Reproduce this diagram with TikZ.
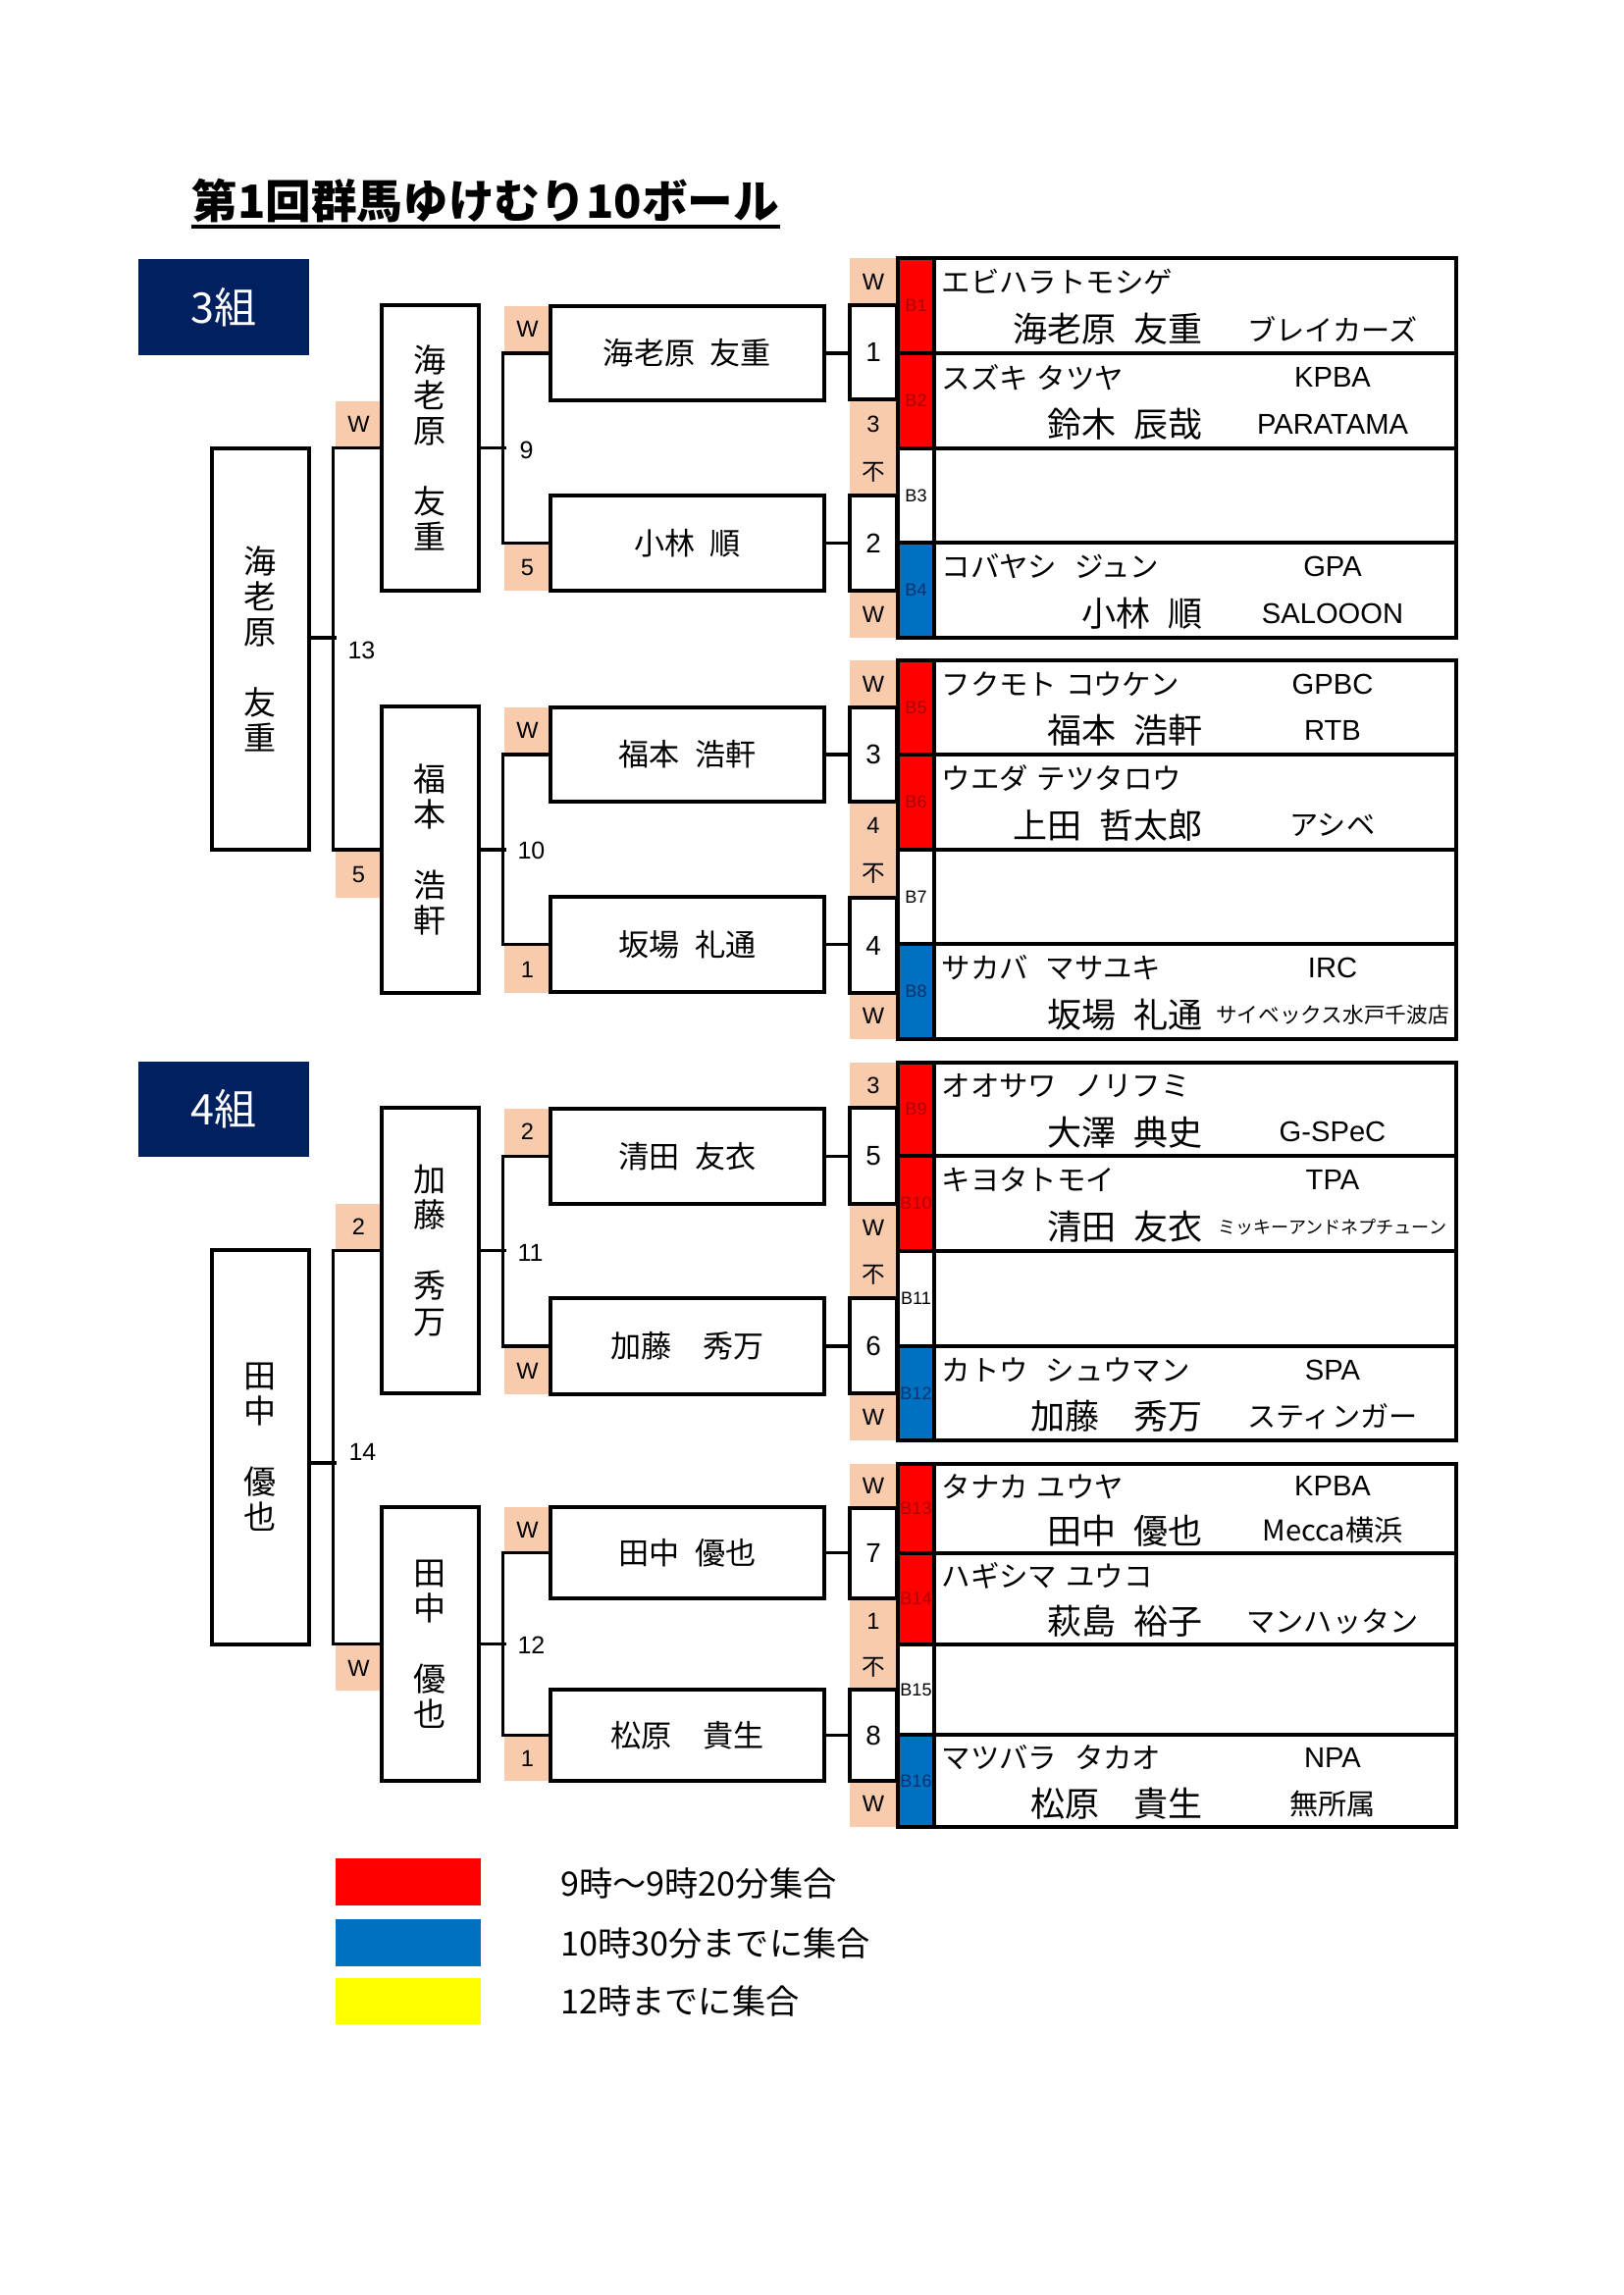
\documentclass[tikz,border=0pt]{standalone}
\usepackage{fontspec}
\setmainfont{Noto Sans CJK JP}
\newfontfamily\lat{Liberation Sans}
\usetikzlibrary{fit,calc}
\definecolor{peachc}{RGB}{248,203,173}
\definecolor{navyc}{RGB}{0,32,96}
\definecolor{redc}{RGB}{255,0,0}
\definecolor{bluec}{RGB}{0,112,192}
\definecolor{yellowc}{RGB}{255,255,0}
\definecolor{redlab}{RGB}{170,0,0}
\definecolor{bluelab}{RGB}{10,50,110}
\newcommand\hs{\hspace{0.5em}}
\newcommand\ks{\hspace{0.3em}}
\newcommand\kf{\hspace{0.6em}}
\newcommand\fz[2]{\fontsize{#1}{#2}\selectfont}
\tikzset{
  bx/.style={draw, line width=1.15pt, inner sep=0pt},
  conn/.style={line width=1.15pt},
  orng/.style={fill=peachc, inner sep=0pt},
  orngtxt/.style={inner sep=0pt, font=\lat\fz{8.5}{9}},
  vert/.style={inner sep=0pt, align=center, font=\fz{11.9}{13}},
  firsttxt/.style={inner sep=0pt, font=\fz{11.2}{12}},
  grp/.style={fill=navyc, inner sep=0pt},
  grptxt/.style={inner sep=0pt, text=white, font=\fz{15.5}{16}},
  rnd/.style={anchor=west, inner sep=0pt, font=\lat\fz{9}{9}},
  scorebx/.style={bx, fill=white},
  scoretxt/.style={inner sep=0pt, font=\lat\fz{10}{10}},
  legtxt/.style={anchor=west, inner sep=0pt, font=\fz{12.3}{13}}
}
\begin{document}
\begin{tikzpicture}[x=0.36pt,y=-0.36pt]
\useasboundingbox[fill=white] (0,0) rectangle (1654,2339);

% title
\node[anchor=base west, inner sep=0pt, font=\bfseries\fz{16.8}{17}] (title) at (195,222) {第1回群馬ゆけむり10ボール};
\draw[line width=1.3pt] ($(title.base west)+(0,9)$) -- ($(title.base east)+(0,9)$);

% group labels
\node[grp, fit={(141,264)(315,362)}] (g3) {};
\node[grptxt] (g3t) at (g3.center) {3組};
\node[grp, fit={(141,1082)(315,1179)}] (g4) {};
\node[grptxt] (g4t) at (g4.center) {4組};

% orange cells
\foreach \nm/\xa/\ya/\xb/\yb/\tx in {
  oS1/342/409/389/456/W, oS2/342/867/389/915/5,
  oF1/514/312/561/359/W, oF2/514/554/561/602/5,
  oF3/514/721/561/768/W, oF4/514/964/561/1012/1,
  oS3/342/1227/389/1273/2, oS4/342/1677/389/1723/W,
  oF5/514/1130/561/1177/2, oF6/514/1373/561/1421/W,
  oF7/514/1536/561/1582/W, oF8/514/1769/561/1815/1,
  p1/866/263/914/311/W, p2/866/407/914/457/3, p3/866/457/914/505/{\rmfamily 不}, p4/866/602/914/650/W,
  p5/866/673/914/721/W, p6/866/817/914/866/4, p7/866/866/914/915/{\rmfamily 不}, p8/866/1012/914/1059/W,
  p9/866/1083/914/1129/3, p10/866/1227/914/1275/W, p11/866/1275/914/1323/{\rmfamily 不}, p12/866/1420/914/1468/W,
  p13/866/1492/914/1537/W, p14/866/1629/914/1676/1, p15/866/1676/914/1722/{\rmfamily 不}, p16/866/1815/914/1862/W}
{
  \node[orng, fit={(\xa,\ya)(\xb,\yb)}] (\nm) {};
  \node[orngtxt] (\nm t) at (\nm.center) {\tx};
}

% bracket boxes (vertical names and first round)
\foreach \nm/\xa/\ya/\xb/\yb in {
  A/216/457/315/866, S1/389/311/488/602, S2/389/720/488/1012,
  F1/561/312/840/408, F2/561/505/840/602, F3/561/721/840/817, F4/561/914/840/1011,
  B/216/1274/315/1676, S3/389/1129/488/1420, S4/389/1536/488/1815,
  F5/561/1130/840/1227, F6/561/1323/840/1421, F7/561/1536/840/1629, F8/561/1722/840/1815}
  \node[bx, fit={(\xa,\ya)(\xb,\yb)}] (\nm) {};

\node[vert] (At) at (A.center) {海\\老\\原\\[13pt]友\\重};
\node[vert] (S1t) at (S1.center) {海\\老\\原\\[13pt]友\\重};
\node[vert] (S2t) at (S2.center) {福\\本\\[13pt]浩\\軒};
\node[vert] (Bt) at (B.center) {田\\中\\[13pt]優\\也};
\node[vert] (S3t) at (S3.center) {加\\藤\\[13pt]秀\\万};
\node[vert] (S4t) at (S4.center) {田\\中\\[13pt]優\\也};
\node[firsttxt] (F1t) at (F1.center) {海老原\hs 友重};
\node[firsttxt] (F2t) at (F2.center) {小林\hs 順};
\node[firsttxt] (F3t) at (F3.center) {福本\hs 浩軒};
\node[firsttxt] (F4t) at (F4.center) {坂場\hs 礼通};
\node[firsttxt] (F5t) at (F5.center) {清田\hs 友衣};
\node[firsttxt] (F6t) at (F6.center) {加藤　秀万};
\node[firsttxt] (F7t) at (F7.center) {田中\hs 優也};
\node[firsttxt] (F8t) at (F8.center) {松原　貴生};

% score boxes
\foreach \i/\ya/\yb in {1/311/407, 2/505/602, 3/721/817, 4/915/1012, 5/1129/1227, 6/1323/1420, 7/1537/1629, 8/1722/1815}
{
  \node[scorebx, fit={(866,\ya)(914,\yb)}] (SC\i) {};
  \node[scoretxt] (SC\i t) at (SC\i.center) {\i};
}

% brackets
\draw[conn] (F1.west) -- ++(-47,0) |- (F2.west);
\draw[conn] (S1.east) -- ++(26,0);
\draw[conn] (F3.west) -- ++(-47,0) |- (F4.west);
\draw[conn] (S2.east) -- ++(26,0);
\draw[conn] (S1.west) -- ++(-48,0) |- (S2.west);
\draw[conn] ($(A.east)+(0,-11.5)$) -- ++(26,0);
\draw[conn] (F5.west) -- ++(-47,0) |- (F6.west);
\draw[conn] (S3.east) -- ++(26,0);
\draw[conn] (F7.west) -- ++(-47,0) |- (F8.west);
\draw[conn] (S4.east) -- ++(26,0);
\draw[conn] (S3.west) -- ++(-48,0) |- (S4.west);
\draw[conn] ($(B.east)+(0,16)$) -- ++(26,0);

% first round to score boxes
\foreach \i in {1,...,8}
  \draw[conn] (F\i.east) -- (F\i.east -| SC\i.west);

% round numbers
\node[rnd] (r9) at (529,459) {9};
\node[rnd] (r10) at (527,867) {10};
\node[rnd] (r11) at (527,1277) {11};
\node[rnd] (r12) at (527,1677) {12};
\node[rnd] (r13) at (354,663) {13};
\node[rnd] (r14) at (355,1480) {14};

% player table
\foreach \i/\t/\b/\c/\lc/\k/\n/\ta/\tb in {
  1/263/360/redc/redlab/エビハラトモシゲ/海老原\hs 友重//ブレイカーズ,
  2/360/457/redc/redlab/スズキ\ks タツヤ/鈴木\hs 辰哉/{\lat KPBA}/{\lat PARATAMA},
  3/457/553/white/black////,
  4/553/650/bluec/bluelab/コバヤシ\kf ジュン/小林\hs 順/{\lat GPA}/{\lat SALOOON},
  5/673/769/redc/redlab/フクモト\ks コウケン/福本\hs 浩軒/{\lat GPBC}/{\lat RTB},
  6/769/866/redc/redlab/ウエダ\ks テツタロウ/上田\hs 哲太郎//アシベ,
  7/866/962/white/black////,
  8/962/1059/bluec/bluelab/サカバ\kf マサユキ/坂場\hs 礼通/{\lat IRC}/{\fz{7.8}{8}サイベックス水戸千波店},
  9/1083/1178/redc/redlab/オオサワ\kf ノリフミ/大澤\hs 典史//{\lat G-SPeC},
  10/1178/1275/redc/redlab/キヨタトモイ/清田\hs 友衣/{\lat TPA}/{\fz{6.5}{7}ミッキーアンドネプチューン},
  11/1275/1372/white/black////,
  12/1372/1468/bluec/bluelab/カトウ\kf シュウマン/加藤　秀万/{\lat SPA}/スティンガー,
  13/1492/1583/redc/redlab/タナカ\ks ユウヤ/田中\hs 優也/{\lat KPBA}/Mecca横浜,
  14/1583/1676/redc/redlab/ハギシマ\ks ユウコ/萩島\hs 裕子//マンハッタン,
  15/1676/1768/white/black////,
  16/1768/1862/bluec/bluelab/マツバラ\kf タカオ/松原　貴生/{\lat NPA}/無所属}
{
  \node[bx, fit={(952,\t)(1484,\b)}] (row\i) {};
  \node[bx, fill=\c, fit={(915,\t)(952,\b)}] (col\i) {};
  \node[inner sep=0pt, text=\lc, font=\lat\fz{6.5}{7}] (bl\i) at (col\i.center) {B\i};
  \node[anchor=west, inner sep=0pt, font=\fz{10.6}{11}] (kana\i) at (959,{\t+0.25*(\b-\t)}) {\k};
  \node[anchor=east, inner sep=0pt, font=\fz{12.6}{13}] (nm\i) at (1226,{\t+0.745*(\b-\t)}) {\n};
  \node[inner sep=0pt, font=\fz{10.5}{11}] (ta\i) at (1358,{\t+0.25*(\b-\t)}) {\ta};
  \node[inner sep=0pt, font=\fz{10.5}{11}] (tb\i) at (1358,{\t+0.745*(\b-\t)}) {\tb};
}

% legend
\node[fill=redc, inner sep=0pt, fit={(342,1894)(490,1942)}] (lr) {};
\node[fill=bluec, inner sep=0pt, fit={(342,1956)(490,2004)}] (lb) {};
\node[fill=yellowc, inner sep=0pt, fit={(342,2016)(490,2063)}] (ly) {};
\node[legtxt] (lrt) at (571,1920) {9時～9時20分集合};
\node[legtxt] (lbt) at (571,1981) {10時30分までに集合};
\node[legtxt] (lyt) at (571,2039) {12時までに集合};
\end{tikzpicture}
\end{document}
